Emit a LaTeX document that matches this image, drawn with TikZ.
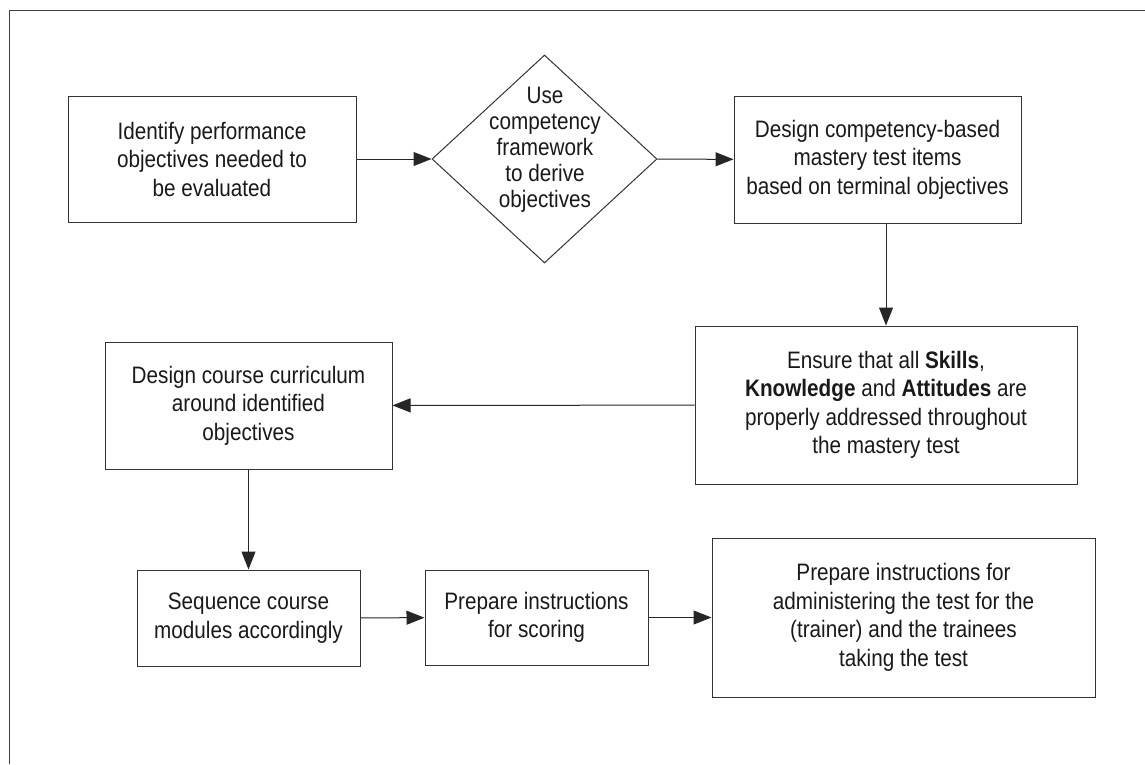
\documentclass[tikz,border=0pt]{standalone}
\usepackage{fontspec}
\setmainfont{Liberation Sans}[FakeStretch=0.87]
\usepackage{xcolor}
\usepackage{tikz}
\usetikzlibrary{arrows.meta,shapes.geometric}

\tikzset{
	box/.style={draw=black!80,line width=1pt,align=center,text=black!90,inner sep=0pt},
	txt/.style={align=center,text=black!90,inner sep=0pt}
}

\begin{document}
\begin{tikzpicture}[x=1pt,y=-1pt,font=\fontsize{23.8}{28.5}\selectfont]
		\useasboundingbox (0,0) rectangle (1145,764);
		\draw[black!75,line width=1pt] (9,764) -- (9,10) -- (1145,10);
		%
		\node[box,minimum width=288,minimum height=126] (I) at (212,159) {Identify performance\\objectives needed to\\be evaluated};
		\node[draw=black!80,line width=1pt,shape=diamond,minimum width=225,minimum height=208,inner sep=0pt] (U) at (544.5,159) {};
		\node[txt,font=\fontsize{23.8}{26}\selectfont] (U') at (545,150) {Use\\competency\\framework\\to derive\\objectives};
		\node[box,minimum width=287,minimum height=127] (D) at (877.5,159.5) {Design competency-based\\mastery test items\\based on terminal objectives};
		\node[box,minimum width=382,minimum height=158] (E) at (886,405) {Ensure that all \textbf{Skills},\\\textbf{Knowledge} and \textbf{Attitudes} are\\properly addressed throughout\\the mastery test};
		\node[box,minimum width=287,minimum height=127] (C) at (248.5,405.5) {Design course curriculum\\around identified\\objectives};
		\node[box,minimum width=223,minimum height=96] (S) at (248.5,618) {Sequence course\\modules accordingly};
		\node[box,minimum width=223,minimum height=95] (P) at (536.5,617.5) {Prepare instructions\\for scoring};
		\node[box,minimum width=383,minimum height=159] (P') at (903.5,617.5) {Prepare instructions for\\administering the test for the\\(trainer) and the trainees\\taking the test};
		%
		\path[->,black!85,line width=1pt,>={Triangle[length=18pt,width=14pt]}]
		(I) edge (U)
		(U) edge (D)
		(D.south -| E.north) edge (E.north)
		(E) edge (C)
		(C) edge (S)
		(S) edge (P)
		(P) edge (P');
	\end{tikzpicture}
\end{document}
